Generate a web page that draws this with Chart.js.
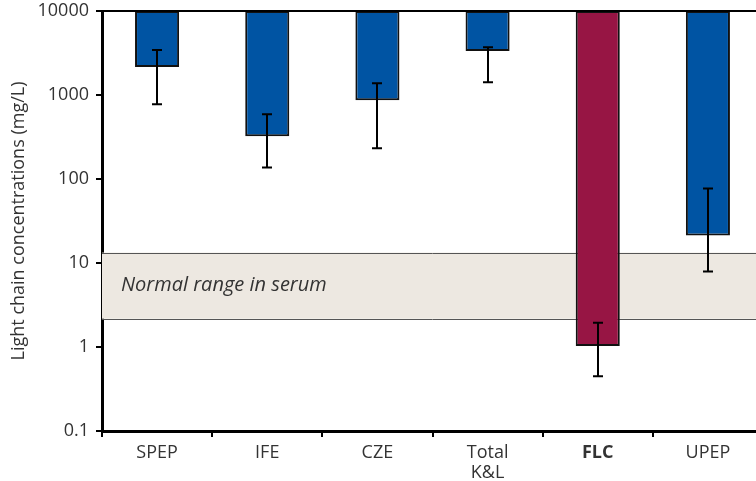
<!DOCTYPE html>
<html>
<head>
<meta charset="utf-8">
<script src="https://cdn.jsdelivr.net/npm/chart.js@4"></script>
<style>
    html, body { margin: 0; padding: 0; background: #fff; overflow: hidden; }
    #wrap { width: 766px; height: 481px; }
</style>
</head>
<body>
<div id="wrap"><canvas id="chart" width="766" height="481"></canvas></div>
<script>
// Chart data
const categories = [['SPEP'], ['IFE'], ['CZE'], ['Total', 'K&L'], ['FLC'], ['UPEP']];
const barValues = [2150, 322, 867, 3330, 1.03, 21.2];
const errHigh = [3430, 590, 1380, 3710, 1.94, 77];
const errLow = [776, 137, 232, 1420, 0.45, 7.9];
const barTop = 10000;
const yTicks = [0.1, 1, 10, 100, 1000, 10000];
const normalRange = [2.17, 13.3];
const normalLabel = 'Normal range in serum';

const colors = {
    blue: '#0054a3',
    crimson: '#971544',
    band: '#ede8e1',
    bandLine: '#555555',
    text: '#333333'
};

const fontFamily = '"Open Sans", "DejaVu Sans", sans-serif';

// Normal range band, drawn under the bars
const bandPlugin = {
    id: 'band',
    beforeDatasetsDraw(chart) {
        const { ctx, chartArea, scales } = chart;
        const yTop = scales.y.getPixelForValue(normalRange[1]);
        const yBot = scales.y.getPixelForValue(normalRange[0]);
        ctx.save();
        ctx.fillStyle = colors.band;
        ctx.fillRect(chartArea.left, yTop, chartArea.right - chartArea.left, yBot - yTop);
        ctx.strokeStyle = colors.bandLine;
        ctx.lineWidth = 1;
        ctx.beginPath();
        ctx.moveTo(chartArea.left, Math.round(yTop) + 0.5);
        ctx.lineTo(chartArea.right, Math.round(yTop) + 0.5);
        ctx.moveTo(chartArea.left, Math.round(yBot) + 0.5);
        ctx.lineTo(chartArea.right, Math.round(yBot) + 0.5);
        ctx.stroke();
        ctx.fillStyle = colors.text;
        ctx.font = 'italic 20px ' + fontFamily;
        ctx.textBaseline = 'middle';
        ctx.fillText(normalLabel, chartArea.left + 19, (yTop + yBot) / 2);
        ctx.restore();
    }
};

// Error bars and top frame line
const errorPlugin = {
    id: 'errors',
    afterDatasetsDraw(chart) {
        const { ctx, chartArea, scales } = chart;
        ctx.save();
        ctx.strokeStyle = '#000';
        ctx.lineWidth = 2;
        ctx.beginPath();
        for (let i = 0; i < barValues.length; i++) {
            const x = Math.round(scales.x.getPixelForValue(i));
            const yHi = scales.y.getPixelForValue(errHigh[i]);
            const yLo = scales.y.getPixelForValue(errLow[i]);
            ctx.moveTo(x, yHi);
            ctx.lineTo(x, yLo);
            ctx.moveTo(x - 5, yHi);
            ctx.lineTo(x + 5, yHi);
            ctx.moveTo(x - 5, yLo);
            ctx.lineTo(x + 5, yLo);
        }
        ctx.stroke();
        ctx.lineWidth = 2;
        ctx.beginPath();
        ctx.moveTo(chartArea.left, chartArea.top);
        ctx.lineTo(chartArea.right, chartArea.top);
        ctx.stroke();
        ctx.restore();
    }
};

new Chart(document.getElementById('chart').getContext('2d'), {
    type: 'bar',
    data: {
        labels: categories,
        datasets: [{
            data: barValues.map(v => [v, barTop]),
            backgroundColor: barValues.map((v, i) => i === 4 ? colors.crimson : colors.blue),
            borderColor: '#111',
            borderWidth: 2,
            borderSkipped: false,
            barPercentage: 0.4,
            categoryPercentage: 1
        }]
    },
    options: {
        responsive: false,
        animation: false,
        layout: { padding: { top: 11, left: 8, right: 3, bottom: 0 } },
        plugins: {
            legend: { display: false },
            tooltip: { enabled: false }
        },
        scales: {
            x: {
                offset: true,
                grid: {
                    offset: true,
                    drawOnChartArea: false,
                    drawTicks: true,
                    tickLength: 6,
                    color: '#000',
                    lineWidth: 2
                },
                border: { display: true, color: '#000', width: 3 },
                ticks: {
                    color: colors.text,
                    padding: 6,
                    maxRotation: 0,
                    font: (c) => ({
                        family: fontFamily,
                        size: 18,
                        weight: c.index === 4 ? 'bold' : 'normal',
                        lineHeight: 1.1
                    })
                },
                afterFit(scale) { scale.height = 50; }
            },
            y: {
                type: 'logarithmic',
                min: 0.1,
                max: 10000,
                afterBuildTicks(scale) {
                    scale.ticks = yTicks.map(v => ({ value: v }));
                },
                grid: {
                    drawOnChartArea: false,
                    drawTicks: true,
                    tickLength: 6,
                    color: '#000',
                    lineWidth: 2
                },
                border: { display: true, color: '#000', width: 3 },
                ticks: {
                    color: colors.text,
                    padding: 7,
                    font: { family: fontFamily, size: 18, lineHeight: 1.1 },
                    callback: (v) => String(v)
                },
                title: {
                    display: true,
                    text: 'Light chain concentrations (mg/L)',
                    color: colors.text,
                    font: { family: fontFamily, size: 18 },
                    padding: { top: 0, bottom: 0 }
                },
                afterFit(scale) {
                    scale.width = 94;
                    scale.paddingTop = 0;
                    scale.paddingBottom = 0;
                }
            }
        }
    },
    plugins: [bandPlugin, errorPlugin]
});
</script>
</body>
</html>
